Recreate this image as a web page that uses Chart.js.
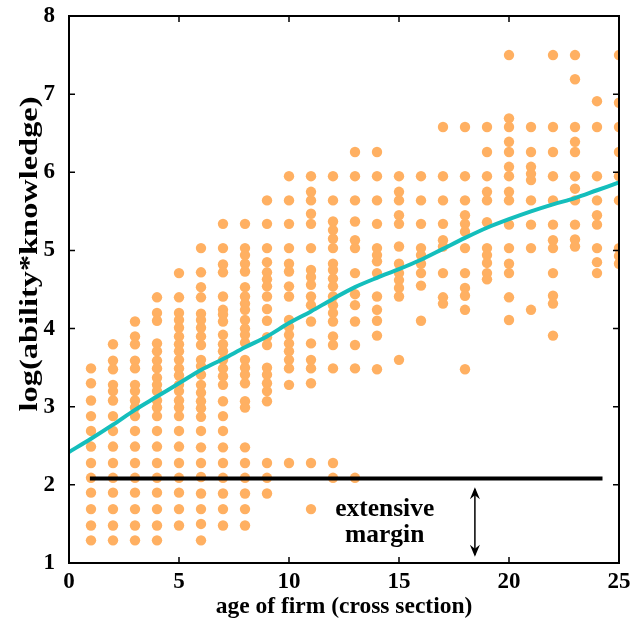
<!DOCTYPE html>
<html>
<head>
<meta charset="utf-8">
<script src="https://cdn.jsdelivr.net/npm/chart.js@4.4.1/dist/chart.umd.min.js"></script>
<style>
  html, body { margin: 0; padding: 0; background: #fff; }
  #wrap { width: 632px; height: 632px; }
</style>
</head>
<body>
<div id="wrap"><canvas id="chart" width="632" height="632"></canvas></div>
<script>
// firm age (x) and the log(ability*knowledge) levels seen at each age
const ages = [1, 2, 3, 4, 5, 6, 7, 8, 9, 10, 11, 12, 13, 14, 15, 16, 17, 18, 19, 20, 21, 22, 23, 24, 25]
const levelsByAge = [
  [3.49, 3.3, 3.08, 2.88, 2.69, 2.49, 2.28, 2.09, 1.9, 1.69, 1.48, 1.29],
  [3.8, 3.59, 3.48, 3.28, 3.2, 3.08, 2.88, 2.69, 2.49, 2.28, 2.09, 1.9, 1.69, 1.48, 1.29],
  [4.09, 3.9, 3.8, 3.59, 3.49, 3.28, 3.2, 3.08, 2.99, 2.88, 2.69, 2.49, 2.28, 2.09, 1.9, 1.69, 1.48, 1.29],
  [4.4, 4.2, 4.1, 3.81, 3.71, 3.59, 3.49, 3.37, 3.28, 3.2, 3.08, 2.99, 2.88, 2.69, 2.49, 2.28, 2.09, 1.9, 1.69, 1.48, 1.29],
  [4.71, 4.4, 4.2, 4.11, 4.01, 3.9, 3.8, 3.71, 3.6, 3.49, 3.4, 3.28, 3.2, 3.08, 2.99, 2.88, 2.69, 2.49, 2.28, 2.09, 1.9, 1.69, 1.48],
  [5.03, 4.72, 4.53, 4.4, 4.19, 4.11, 4.01, 3.9, 3.79, 3.6, 3.52, 3.41, 3.28, 3.18, 3.07, 2.98, 2.87, 2.69, 2.48, 2.28, 2.1, 1.89, 1.69, 1.5, 1.29],
  [5.34, 5.03, 4.82, 4.72, 4.41, 4.24, 4.18, 4.09, 3.92, 3.8, 3.71, 3.6, 3.49, 3.39, 3.28, 3.07, 2.88, 2.69, 2.48, 2.28, 2.09, 1.89, 1.69, 1.48],
  [5.34, 5.03, 4.94, 4.83, 4.73, 4.53, 4.41, 4.32, 4.24, 4.11, 4.0, 3.92, 3.82, 3.6, 3.5, 3.41, 3.3, 3.07, 2.99, 2.48, 2.28, 2.09, 1.89, 1.69, 1.48],
  [5.64, 5.34, 5.03, 4.85, 4.72, 4.63, 4.54, 4.41, 4.25, 4.1, 3.89, 3.79, 3.5, 3.41, 3.3, 3.2, 3.07, 2.28, 2.09, 1.89],
  [5.95, 5.64, 5.34, 5.03, 4.83, 4.73, 4.54, 4.41, 4.11, 4.02, 3.92, 3.81, 3.71, 3.6, 3.49, 3.28, 2.28],
  [5.95, 5.75, 5.64, 5.47, 5.34, 5.03, 4.75, 4.66, 4.56, 4.41, 4.3, 4.09, 3.81, 3.6, 3.49, 3.3, 2.28, 1.69],
  [5.95, 5.64, 5.37, 5.26, 5.15, 5.03, 4.83, 4.75, 4.64, 4.54, 4.41, 4.3, 4.2, 4.09, 3.9, 3.79, 3.49, 2.28, 2.09],
  [6.26, 5.95, 5.64, 5.37, 5.13, 5.03, 4.71, 4.44, 4.3, 4.09, 3.79, 3.49, 2.09],
  [6.26, 5.95, 5.64, 5.34, 5.03, 4.94, 4.86, 4.71, 4.41, 4.24, 4.1, 3.91, 3.48],
  [5.95, 5.75, 5.64, 5.45, 5.34, 5.05, 4.83, 4.71, 4.62, 4.52, 4.41, 3.6],
  [5.95, 5.64, 5.34, 5.03, 4.94, 4.83, 4.71, 4.55, 4.1],
  [6.58, 5.95, 5.64, 5.34, 5.13, 5.05, 4.71, 4.4, 4.32],
  [6.58, 5.95, 5.64, 5.45, 5.34, 5.24, 5.03, 4.71, 4.52, 4.42, 4.24, 3.48],
  [6.58, 6.26, 5.95, 5.75, 5.64, 5.36, 5.03, 4.94, 4.84, 4.71, 4.63],
  [7.5, 6.69, 6.58, 6.39, 6.26, 6.07, 5.95, 5.75, 5.64, 5.33, 5.03, 4.83, 4.71, 4.4, 4.11],
  [6.58, 6.26, 6.07, 5.98, 5.9, 5.64, 5.33, 5.03, 4.24],
  [7.5, 6.58, 6.26, 5.95, 5.64, 5.33, 5.13, 5.03, 4.71, 4.42, 4.32, 3.91],
  [7.5, 7.19, 6.58, 6.39, 6.26, 5.95, 5.79, 5.64, 5.33, 5.14, 5.05],
  [6.91, 6.58, 5.95, 5.64, 5.45, 5.33, 5.03, 4.85, 4.71],
  [7.5, 6.89, 6.58, 6.26, 5.95, 5.64, 5.03, 4.93, 4.83],
]

// smooth average curve
const fitAges = [0, 1, 2, 3, 4, 5, 6, 7, 8, 9, 10, 11, 12, 13, 14, 15, 16, 17, 18, 19, 20, 21, 22, 23, 24, 25]
const fitValues = [2.42, 2.59, 2.77, 2.96, 3.13, 3.3, 3.47, 3.61, 3.76, 3.9, 4.07, 4.22, 4.38, 4.53, 4.65, 4.76, 4.88, 5.02, 5.16, 5.29, 5.4, 5.5, 5.59, 5.67, 5.77, 5.87]

// extensive margin threshold
const marginAges = [0.95, 24.25]
const marginLevel = 2.08
const arrowAge = 18.45
const arrowRange = [1.97, 1.08]
const noteLines = ["extensive", "margin"]
const noteAge = 14.35
const noteLevels = [1.69, 1.35]

const xTicks = [0, 5, 10, 15, 20, 25]
const yTicks = [1, 2, 3, 4, 5, 6, 7, 8]
const yTitle = "log(ability*knowledge)"

const serif = "'Liberation Serif', 'Times New Roman', serif"
const orange = "rgb(255, 176, 98)"
const teal = "rgb(20, 190, 188)"

const scatterData = []
ages.forEach((age, i) => {
  levelsByAge[i].forEach((v) => scatterData.push({ x: age, y: v }))
})

// frame, inward ticks, arrow, note and the y title
const extrasPlugin = {
  id: "extras",
  afterDatasetsDraw(chart) {
    const { ctx, chartArea: a, scales } = chart
    const xs = scales.x
    const ys = scales.y
    ctx.save()
    ctx.strokeStyle = "#000"
    ctx.lineWidth = 2
    ctx.strokeRect(a.left, a.top, a.right - a.left, a.bottom - a.top)
    ctx.lineWidth = 1.5
    ctx.beginPath()
    xTicks.forEach((t) => {
      const px = xs.getPixelForValue(t)
      ctx.moveTo(px, a.bottom); ctx.lineTo(px, a.bottom - 6)
      ctx.moveTo(px, a.top); ctx.lineTo(px, a.top + 6)
    })
    yTicks.forEach((t) => {
      const py = ys.getPixelForValue(t)
      ctx.moveTo(a.left, py); ctx.lineTo(a.left + 6, py)
      ctx.moveTo(a.right, py); ctx.lineTo(a.right - 6, py)
    })
    ctx.stroke()

    // double arrow
    const ax = xs.getPixelForValue(arrowAge)
    const ay1 = ys.getPixelForValue(arrowRange[0])
    const ay2 = ys.getPixelForValue(arrowRange[1])
    ctx.lineWidth = 1.5
    ctx.beginPath()
    ctx.moveTo(ax, ay1 + 2); ctx.lineTo(ax, ay2 - 2)
    ctx.stroke()
    ctx.fillStyle = "#000"
    ctx.beginPath()
    ctx.moveTo(ax, ay1); ctx.lineTo(ax - 5, ay1 + 12); ctx.lineTo(ax, ay1 + 8); ctx.lineTo(ax + 5, ay1 + 12); ctx.closePath()
    ctx.fill()
    ctx.beginPath()
    ctx.moveTo(ax, ay2); ctx.lineTo(ax - 5, ay2 - 12); ctx.lineTo(ax, ay2 - 8); ctx.lineTo(ax + 5, ay2 - 12); ctx.closePath()
    ctx.fill()

    ctx.font = "bold 25.5px " + serif
    ctx.textAlign = "center"
    ctx.textBaseline = "middle"
    noteLines.forEach((s, i) => {
      ctx.fillText(s, xs.getPixelForValue(noteAge), ys.getPixelForValue(noteLevels[i]))
    })

    // y title, stretched along its length to the reference span
    ctx.font = "bold 25px " + serif
    const w = ctx.measureText(yTitle).width
    ctx.translate(31, 254)
    ctx.rotate(-Math.PI / 2)
    ctx.scale(315 / w, 1)
    ctx.fillText(yTitle, 0, 0)
    ctx.restore()
  },
}

new Chart(document.getElementById("chart"), {
  type: "scatter",
  data: {
    datasets: [
      {
        type: "line",
        data: fitAges.map((a, i) => ({ x: a, y: fitValues[i] })),
        borderColor: teal,
        borderWidth: 4,
        pointRadius: 0,
        cubicInterpolationMode: "monotone",
        fill: false,
        order: 0,
      },
      {
        type: "line",
        data: marginAges.map((a) => ({ x: a, y: marginLevel })),
        borderColor: "#000",
        borderWidth: 4,
        pointRadius: 0,
        fill: false,
        order: 0,
      },
      {
        data: scatterData,
        backgroundColor: orange,
        borderWidth: 0,
        pointRadius: 5.2,
        order: 1,
      },
    ],
  },
  options: {
    responsive: false,
    animation: false,
    layout: { padding: { top: 16, right: 13, left: 0, bottom: 0 } },
    plugins: { legend: { display: false }, tooltip: { enabled: false } },
    scales: {
      x: {
        type: "linear",
        min: 0,
        max: 25,
        grid: { display: false, drawTicks: false },
        border: { display: false },
        ticks: {
          stepSize: 5,
          padding: 5,
          color: "#000",
          font: { family: serif, size: 23, weight: "bold" },
          maxRotation: 0,
        },
        title: {
          display: true,
          text: "age of firm (cross section)",
          color: "#000",
          font: { family: serif, size: 23.5, weight: "bold" },
          padding: { top: 0, bottom: 11 },
        },
        afterFit: (scale) => {
          scale.height = 69
          scale.paddingLeft = 0
          scale.paddingRight = 0
        },
      },
      y: {
        type: "linear",
        min: 1,
        max: 8,
        grid: { display: false, drawTicks: false },
        border: { display: false },
        ticks: {
          stepSize: 1,
          padding: 14,
          color: "#000",
          font: { family: serif, size: 23, weight: "bold" },
        },
        afterFit: (scale) => {
          scale.width = 69
          scale.paddingTop = 0
          scale.paddingBottom = 0
        },
      },
    },
  },
  plugins: [extrasPlugin],
})
</script>
</body>
</html>
